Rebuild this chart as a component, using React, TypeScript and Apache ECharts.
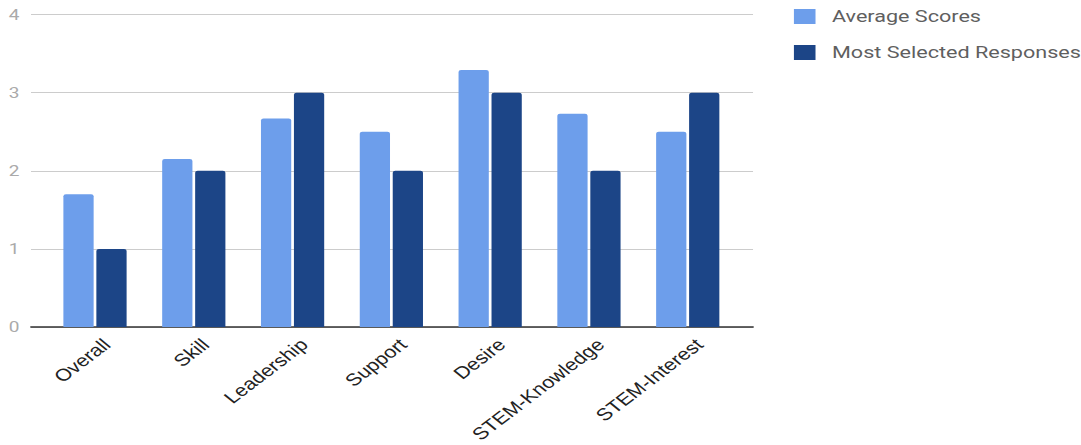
import React, { useEffect, useRef } from "react";
import * as echarts from "echarts";

const categories = ["Overall", "Skill", "Leadership", "Support", "Desire", "STEM-Knowledge", "STEM-Interest"];
const averageScores = [1.7, 2.15, 2.67, 2.5, 3.29, 2.73, 2.5];
const mostSelected = [1, 2, 3, 2, 3, 2, 3];
const seriesNames = ["Average Scores", "Most Selected Responses"];

const W = 851;
const H = 445;
const SX = 1081 / W;

export default function App() {
  const ref = useRef<HTMLDivElement>(null);
  useEffect(() => {
    if (!ref.current) return;
    const chart = echarts.init(ref.current, null, { renderer: "svg", width: W, height: H });
    const top = 14.5;
    const bottom = 118;
    chart.setOption({
      animation: false,
      backgroundColor: "#ffffff",
      legend: {
        orient: "vertical",
        left: 620,
        top: 3,
        itemWidth: 17,
        itemHeight: 15,
        itemGap: 19,
        icon: "rect",
        data: seriesNames,
        textStyle: { fontSize: 17, color: "#5f5f5f", fontFamily: "Roboto", padding: [0, 0, 0, 8] },
      },
      grid: [
        { left: 24.4, right: W - 592.8, top, bottom },
        { left: 35.9, right: W - 580.3, top, bottom },
        { left: 44.9, right: W - 580.3 - 9, top, bottom },
      ],
      xAxis: [
        {
          gridIndex: 0,
          type: "category",
          data: categories,
          axisLine: { show: true, lineStyle: { color: "#333333", width: 1.5 } },
          axisTick: { show: false },
          axisLabel: { show: false },
        },
        {
          gridIndex: 1,
          type: "category",
          data: categories,
          axisLine: { show: false },
          axisTick: { show: false },
          axisLabel: { show: false },
        },
        {
          gridIndex: 2,
          type: "category",
          data: categories,
          axisLine: { show: false },
          axisTick: { show: false },
          axisLabel: {
            show: true,
            interval: 0,
            rotate: 44,
            margin: 22,
            fontSize: 17,
            color: "#222222",
            fontFamily: "Liberation Sans, Arial",
          },
        },
      ],
      yAxis: [
        {
          gridIndex: 0,
          type: "value",
          min: 0,
          max: 4,
          interval: 1,
          axisLine: { show: false },
          axisTick: { show: false },
          axisLabel: { fontSize: 15, color: "#aaaaaa", margin: 9, fontFamily: "Roboto" },
          splitLine: { lineStyle: { color: "#cccccc", width: 1 } },
        },
        { gridIndex: 1, type: "value", min: 0, max: 4, show: false },
        { gridIndex: 2, type: "value", min: 0, max: 4, show: false },
      ],
      series: [
        {
          name: seriesNames[0],
          type: "bar",
          xAxisIndex: 1,
          yAxisIndex: 1,
          data: averageScores,
          barGap: "9%",
          barCategoryGap: "36%",
          itemStyle: { color: "#6d9eeb", borderRadius: [2, 2, 0, 0] },
        },
        {
          name: seriesNames[1],
          type: "bar",
          xAxisIndex: 1,
          yAxisIndex: 1,
          data: mostSelected,
          barGap: "9%",
          barCategoryGap: "36%",
          itemStyle: { color: "#1c4587", borderRadius: [2, 2, 0, 0] },
        },
      ],
    });
    return () => chart.dispose();
  }, []);
  return (
    <div
      style={{
        position: "absolute",
        left: 0,
        top: 0,
        width: W,
        height: H,
        transform: `scaleX(${SX})`,
        transformOrigin: "0 0",
        background: "#fff",
      }}
    >
      <div ref={ref} style={{ width: W, height: H }} />
    </div>
  );
}
